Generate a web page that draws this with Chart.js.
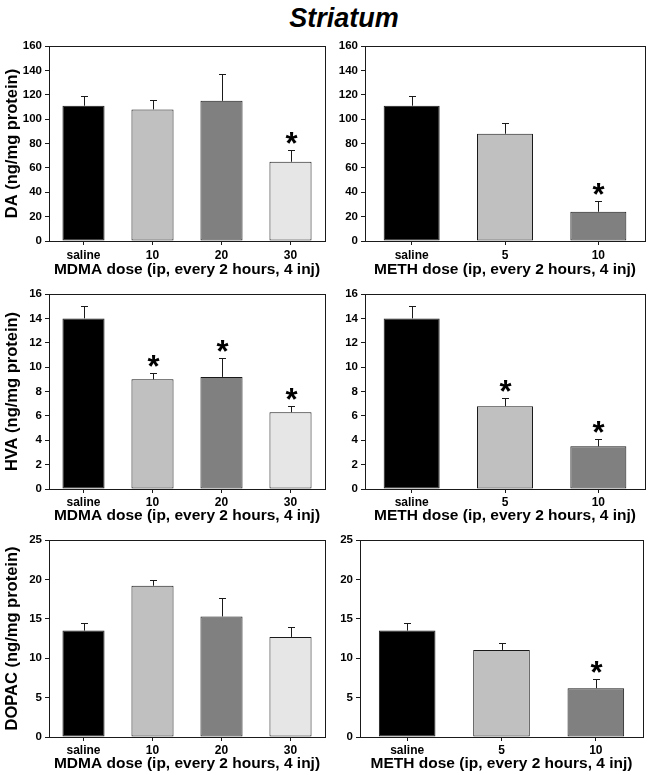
<!DOCTYPE html>
<html>
<head>
<meta charset="utf-8">
<title>Striatum</title>
<script src="https://cdn.jsdelivr.net/npm/chart.js@4.4.1/dist/chart.umd.min.js"></script>
<style>
  html, body { margin: 0; padding: 0; background: #fff; }
  body { width: 652px; height: 775px; position: relative; overflow: hidden;
         font-family: "Liberation Sans", Arial, sans-serif; }
  #title { position: absolute; left: 244px; top: 5px; width: 200px; text-align: center;
           font-weight: bold; font-style: italic; font-size: 27px; line-height: 27px; color: #000; }
  canvas { position: absolute; }
</style>
</head>
<body>
<div id="title">Striatum</div>
<canvas id="daMdmaChart" width="326" height="243" style="left:0;top:36px"></canvas>
<canvas id="daMethChart" width="326" height="243" style="left:326px;top:36px"></canvas>
<canvas id="hvaMdmaChart" width="326" height="241" style="left:0;top:284px"></canvas>
<canvas id="hvaMethChart" width="326" height="241" style="left:326px;top:284px"></canvas>
<canvas id="dopacMdmaChart" width="326" height="243" style="left:0;top:530px"></canvas>
<canvas id="dopacMethChart" width="326" height="243" style="left:326px;top:530px"></canvas>

<script>
// ---------------------------------------------------------
// DATA
// ---------------------------------------------------------
const mdmaDoses = ["saline", "10", "20", "30"];
const methDoses = ["saline", "5", "10"];

const daMdma = [111, 108, 115, 65];
const daMdmaErr = [8, 8, 22, 9.5];
const daMdmaSig = [false, false, false, true];

const daMeth = [111, 88, 24];
const daMethErr = [8, 9, 8.5];
const daMethSig = [false, false, true];

const hvaMdma = [14.0, 9.0, 9.2, 6.3];
const hvaMdmaErr = [1.0, 0.55, 1.55, 0.5];
const hvaMdmaSig = [false, true, true, true];

const hvaMeth = [14.0, 6.8, 3.5];
const hvaMethErr = [1.0, 0.65, 0.6];
const hvaMethSig = [false, true, true];

const dopacMdma = [13.5, 19.2, 15.3, 12.7];
const dopacMdmaErr = [1.0, 0.7, 2.4, 1.2];
const dopacMdmaSig = [false, false, false, false];

const dopacMeth = [13.5, 11.05, 6.2];
const dopacMethErr = [1.0, 0.9, 1.2];
const dopacMethSig = [false, false, true];

const mdmaColors = ["#000000", "#c0c0c0", "#808080", "#e6e6e6"];
const methColors = ["#000000", "#c0c0c0", "#808080"];

const FONT = "'Liberation Sans', Arial, sans-serif";
const INK = "#1a1a1a";

// ---------------------------------------------------------
// PLUGIN: error bars, asterisks, plot frame
// ---------------------------------------------------------
const errorBarPlugin = {
  id: "errorBars",
  afterDatasetsDraw(chart) {
    const ctx = chart.ctx;
    const ds = chart.data.datasets[0];
    const meta = chart.getDatasetMeta(0);
    const yScale = chart.scales.y;
    ctx.save();
    ctx.strokeStyle = INK;
    ctx.lineWidth = 1;
    meta.data.forEach((bar, i) => {
      const x = Math.round(bar.x) + 0.5;
      const top = Math.round(yScale.getPixelForValue(ds.data[i] + ds.errors[i])) + 0.5;
      ctx.beginPath();
      ctx.moveTo(x, bar.y);
      ctx.lineTo(x, top);
      ctx.moveTo(x - 3.5, top);
      ctx.lineTo(x + 3.5, top);
      ctx.stroke();
      if (ds.sig[i]) {
        ctx.fillStyle = "#000";
        ctx.font = "bold 31px " + FONT;
        ctx.textAlign = "center";
        ctx.textBaseline = "alphabetic";
        const m = ctx.measureText("*");
        ctx.fillText("*", x, top - 7 - m.actualBoundingBoxDescent);
      }
    });
    // frame round the plot area
    const a = chart.chartArea;
    ctx.strokeRect(Math.round(a.left) + 0.5, Math.round(a.top) + 0.5,
                   Math.round(a.right - a.left), Math.round(a.bottom - a.top));
    ctx.restore();
  }
};

// ---------------------------------------------------------
// CHART FACTORY
// ---------------------------------------------------------
function makePanel(id, labels, values, errors, sig, colors, yMax, yStep, yTitle, xTitle, yWidth, padRight, barPct, xHeight, xPad) {
  return new Chart(document.getElementById(id), {
    type: "bar",
    data: {
      labels: labels,
      datasets: [{
        data: values,
        errors: errors,
        sig: sig,
        backgroundColor: colors,
        borderColor: INK,
        borderWidth: 1,
        borderSkipped: false,
        barPercentage: barPct,
        categoryPercentage: 1.0
      }]
    },
    options: {
      responsive: false,
      animation: false,
      layout: { padding: { top: 10, right: padRight, left: 0, bottom: 0 } },
      plugins: { legend: { display: false }, tooltip: { enabled: false } },
      scales: {
        x: {
          grid: { display: true, drawOnChartArea: false, drawTicks: true, tickLength: 4, offset: false, color: INK },
          border: { display: false },
          ticks: { color: "#000", padding: xPad, font: { family: FONT, size: 12, weight: "bold" } },
          title: { display: true, text: xTitle, color: "#000", padding: 0,
                   font: { family: FONT, size: 15.5, weight: "bold" } },
          afterFit: (scale) => { scale.height = xHeight; }
        },
        y: {
          min: 0,
          max: yMax,
          grid: { display: true, drawOnChartArea: false, drawTicks: true, tickLength: 4, color: INK },
          border: { display: false },
          ticks: { stepSize: yStep, color: "#000", padding: 3, font: { family: FONT, size: 11.5, weight: "bold" } },
          title: { display: true, text: yTitle, color: "#000", padding: { top: 3, bottom: 0 },
                   font: { family: FONT, size: 16.5, weight: "bold" } },
          afterFit: (scale) => { scale.width = yWidth; }
        }
      }
    },
    plugins: [errorBarPlugin]
  });
}

// ---------------------------------------------------------
// INIT
// ---------------------------------------------------------
const mdmaTitle = "MDMA dose (ip, every 2 hours, 4 inj)";
const methTitle = "METH dose (ip, every 2 hours, 4 inj)";

makePanel("daMdmaChart", mdmaDoses, daMdma, daMdmaErr, daMdmaSig, mdmaColors, 160, 20, "DA (ng/mg protein)", mdmaTitle, 49, 1, 0.61, 38, 3.5);
makePanel("daMethChart", methDoses, daMeth, daMethErr, daMethSig, methColors, 160, 20, "", methTitle, 39, 7, 0.6, 38, 3.5);
makePanel("hvaMdmaChart", mdmaDoses, hvaMdma, hvaMdmaErr, hvaMdmaSig, mdmaColors, 16, 2, "HVA (ng/mg protein)", mdmaTitle, 49, 1, 0.61, 36, 2);
makePanel("hvaMethChart", methDoses, hvaMeth, hvaMethErr, hvaMethSig, methColors, 16, 2, "", methTitle, 39, 7, 0.6, 36, 2);
makePanel("dopacMdmaChart", mdmaDoses, dopacMdma, dopacMdmaErr, dopacMdmaSig, mdmaColors, 25, 5, "DOPAC (ng/mg protein)", mdmaTitle, 49, 1, 0.61, 36, 2);
makePanel("dopacMethChart", methDoses, dopacMeth, dopacMethErr, dopacMethSig, methColors, 25, 5, "", methTitle, 34, 9, 0.6, 36, 2);
</script>
</body>
</html>
